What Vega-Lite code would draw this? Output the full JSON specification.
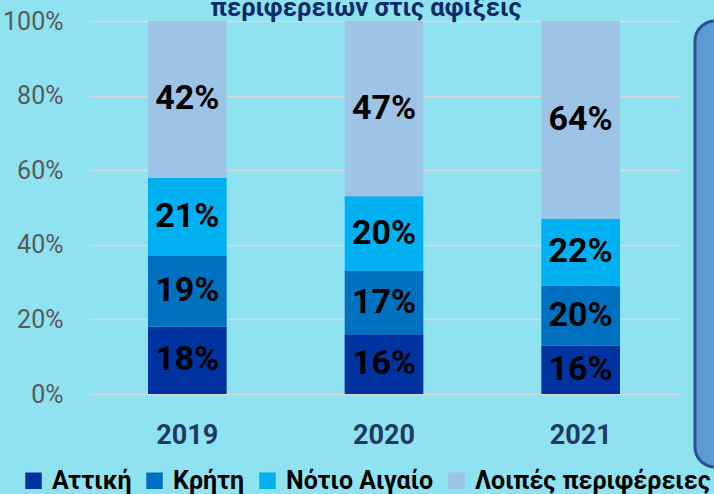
{
  "$schema": "https://vega.github.io/schema/vega-lite/v6.json",
  "background": "#8FE3F1",
  "padding": {"left": 2, "top": -5, "right": -20, "bottom": 0},
  "config": {"view": {"stroke": null}, "font": "Roboto"},
  "resolve": {"scale": {"color": "shared"}, "legend": {"color": "shared"}},
  "spacing": 14,
  "hconcat": [
    {
      "title": {"text": "περιφερειών στις αφίξεις", "font": "Roboto", "fontSize": 25.5, "fontWeight": "bold", "color": "#0B2A66", "baseline": "alphabetic", "offset": -32, "dx": -18},
      "width": 590,
      "height": 373,
      "data": {"values": [
        {"year": "2019", "region": "Αττική", "k": 1, "value": 18, "label": "18%"},
        {"year": "2019", "region": "Κρήτη", "k": 2, "value": 19, "label": "19%"},
        {"year": "2019", "region": "Νότιο Αιγαίο", "k": 3, "value": 21, "label": "21%"},
        {"year": "2019", "region": "Λοιπές περιφέρειες", "k": 4, "value": 42, "label": "42%"},
        {"year": "2020", "region": "Αττική", "k": 1, "value": 16, "label": "16%"},
        {"year": "2020", "region": "Κρήτη", "k": 2, "value": 17, "label": "17%"},
        {"year": "2020", "region": "Νότιο Αιγαίο", "k": 3, "value": 20, "label": "20%"},
        {"year": "2020", "region": "Λοιπές περιφέρειες", "k": 4, "value": 47, "label": "47%"},
        {"year": "2021", "region": "Αττική", "k": 1, "value": 13, "label": "16%"},
        {"year": "2021", "region": "Κρήτη", "k": 2, "value": 16, "label": "20%"},
        {"year": "2021", "region": "Νότιο Αιγαίο", "k": 3, "value": 18, "label": "22%"},
        {"year": "2021", "region": "Λοιπές περιφέρειες", "k": 4, "value": 53, "label": "64%"}
      ]},
      "transform": [
        {"stack": "value", "groupby": ["year"], "sort": [{"field": "k", "order": "ascending"}], "as": ["y0", "y1"]},
        {"calculate": "(datum.y0 + datum.y1) / 2", "as": "ym"}
      ],
      "encoding": {
        "x": {
          "field": "year", "type": "nominal",
          "scale": {"paddingInner": 0.6, "paddingOuter": 0.3},
          "axis": {"title": null, "labelAngle": 0, "domain": false, "ticks": false, "labelFont": "Roboto", "labelFontSize": 27, "labelFontWeight": "bold", "labelColor": "#1F3864", "labelPadding": 28}
        }
      },
      "layer": [
        {
          "mark": {"type": "bar"},
          "encoding": {
            "y": {
              "field": "y0", "type": "quantitative",
              "scale": {"domain": [0, 100], "nice": false},
              "axis": {"values": [0, 20, 40, 60, 80, 100], "labelExpr": "datum.value + '%'", "title": null, "domain": false, "ticks": false, "gridColor": "#D9D9D9", "gridWidth": 1.3, "labelFont": "Roboto", "labelFontSize": 25, "labelColor": "#595959", "labelPadding": 26}
            },
            "y2": {"field": "y1"},
            "color": {
              "field": "region", "type": "nominal",
              "scale": {"domain": ["Αττική", "Κρήτη", "Νότιο Αιγαίο", "Λοιπές περιφέρειες"], "range": ["#0033A0", "#0070C0", "#00B0F0", "#9DC3E6"]},
              "legend": {"title": null, "orient": "none", "legendX": -68, "legendY": 447, "direction": "horizontal", "columns": 4, "symbolType": "square", "symbolSize": 272, "symbolStrokeWidth": 0, "labelFont": "Roboto", "labelFontSize": 25, "labelFontWeight": "bold", "labelColor": "#000000", "labelOffset": 6, "labelLimit": 400, "columnPadding": 10}
            }
          }
        },
        {
          "mark": {"type": "text", "font": "Roboto", "fontSize": 34, "fontWeight": "bold", "color": "#000000", "baseline": "middle", "align": "center"},
          "encoding": {
            "y": {"field": "ym", "type": "quantitative"},
            "text": {"field": "label"}
          }
        }
      ]
    },
    {
      "width": 40,
      "height": 446,
      "data": {"values": []},
      "mark": "rect",
      "view": {"fill": "#5B9BD5", "stroke": "#2F528F", "strokeWidth": 3, "cornerRadius": 31}
    }
  ]
}
